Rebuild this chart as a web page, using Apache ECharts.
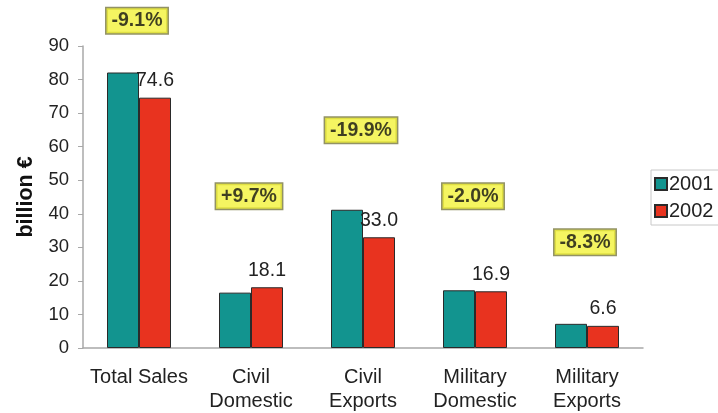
<!DOCTYPE html>
<html>
<head>
<meta charset="utf-8">
<script src="https://cdn.jsdelivr.net/npm/echarts@6/dist/echarts.min.js"></script>
<style>
  html, body { margin: 0; padding: 0; background: #ffffff; }
  #chart { width: 718px; height: 413px; }
</style>
</head>
<body>
<div id="chart"></div>
<script>
// Sales by segment, billion euro
const categories = ['Total Sales', 'Civil\nDomestic', 'Civil\nExports', 'Military\nDomestic', 'Military\nExports'];
const sales2001 = [82.1, 16.5, 41.2, 17.2, 7.2];
const sales2002 = [74.6, 18.1, 33.0, 16.9, 6.6];
const changeLabels = ['-9.1%', '+9.7%', '-19.9%', '-2.0%', '-8.3%'];
const yTicks = { min: 0, max: 90, interval: 10 };

// Layout: height (axis units) at which each change badge sits
const badgeLevel = [97.5, 45.2, 64.9, 45.2, 31.5];

const FONT = '"Liberation Sans", Arial, Helvetica, sans-serif';
const TEAL = '#12948f';
const RED = '#e8331f';

const chart = echarts.init(document.getElementById('chart'), null, { renderer: 'canvas' });

chart.setOption({
  animation: false,
  backgroundColor: '#ffffff',
  textStyle: { fontFamily: FONT },
  grid: { left: 83, right: 75, top: 46, bottom: 65, containLabel: false },
  legend: {
    orient: 'vertical',
    left: 651,
    top: 170,
    data: ['2001', '2002'],
    icon: 'rect',
    itemWidth: 12,
    itemHeight: 12,
    itemGap: 7,
    padding: [4, 6, 4, 3],
    borderColor: '#c8c8c8',
    borderWidth: 1,
    textStyle: { fontFamily: FONT, fontSize: 20, color: '#222', padding: [0, 0, 0, -3] }
  },
  xAxis: {
    type: 'category',
    data: categories,
    axisLine: { lineStyle: { color: '#a8a8a8', width: 1.5 } },
    axisTick: { show: false },
    axisLabel: {
      margin: 17,
      fontFamily: FONT,
      fontSize: 20,
      lineHeight: 24,
      color: '#222',
      interval: 0
    }
  },
  yAxis: {
    type: 'value',
    min: yTicks.min,
    max: yTicks.max,
    interval: yTicks.interval,
    name: 'billion €',
    nameLocation: 'middle',
    nameRotate: 90,
    nameGap: 46,
    nameTextStyle: { fontFamily: FONT, fontSize: 21.5, fontWeight: 'bold', color: '#111' },
    axisLine: { show: true, lineStyle: { color: '#a8a8a8', width: 1.5 } },
    axisTick: { show: true, length: 5, lineStyle: { color: '#a8a8a8' } },
    splitLine: { show: false },
    axisLabel: { margin: 14, fontFamily: FONT, fontSize: 18.5, color: '#222' }
  },
  series: [
    {
      name: '2001',
      type: 'bar',
      data: sales2001,
      barWidth: 32,
      barGap: '0%',
      itemStyle: { color: TEAL, borderColor: '#2a2a2a', borderWidth: 1 }
    },
    {
      name: '2002',
      type: 'bar',
      data: sales2002,
      barWidth: 32,
      barGap: '0%',
      z: 3,
      itemStyle: { color: RED, borderColor: '#2a2a2a', borderWidth: 1 },
      label: {
        show: true,
        position: 'top',
        distance: 7,
        fontFamily: FONT,
        fontSize: 19.5,
        color: '#222',
        formatter: p => p.value.toFixed(1)
      }
    },
    {
      name: 'change',
      type: 'scatter',
      data: badgeLevel.map((lvl, i) => [i, lvl]),
      symbolSize: 1,
      clip: false,
      itemStyle: { color: 'transparent' },
      silent: true,
      z: 5,
      label: {
        show: true,
        position: 'inside',
        offset: [-2, 0],
        formatter: p => changeLabels[p.dataIndex],
        fontFamily: FONT,
        fontSize: 19.5,
        fontWeight: 'bold',
        color: '#111',
        backgroundColor: '#f3f23a',
        borderColor: '#77773e',
        borderWidth: 1.5,
        padding: [3, 5, 2, 5]
      }
    }
  ]
});
</script>
</body>
</html>
